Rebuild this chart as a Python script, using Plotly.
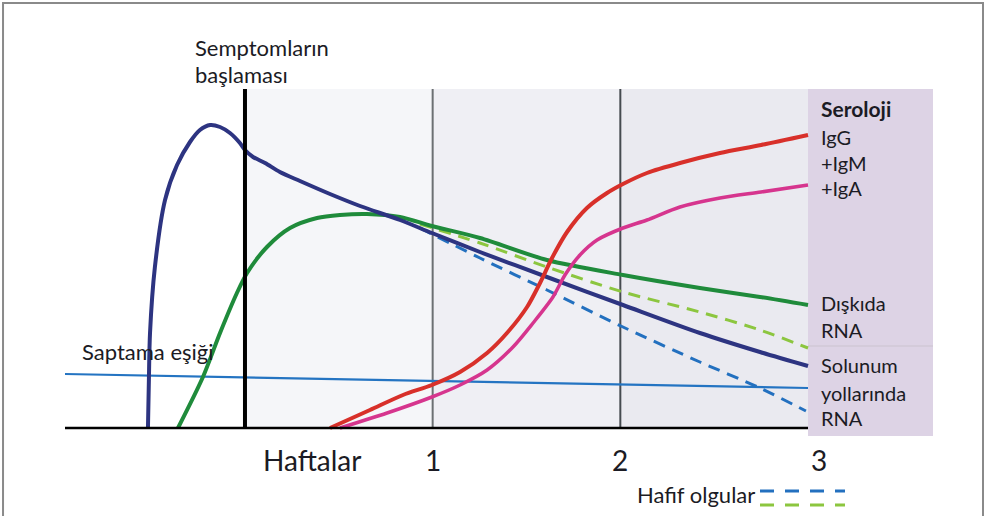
import plotly.graph_objects as go

# ---- data (x in weeks since symptom onset, y in arbitrary level units) ----
resp_x = [-0.517, -0.512, -0.506, -0.480, -0.426, -0.362, -0.293, -0.240, -0.186, -0.133, -0.080, -0.027, 0.0,
          0.043, 0.107, 0.186, 0.293, 0.453, 0.613, 0.826, 0.996, 1.252, 1.609, 2.014, 2.424, 2.744, 3.0]
resp_y = [0, 48, 95, 161, 228, 263, 286, 298, 303, 301, 295, 285, 278,
          271, 265, 256, 247, 234, 222, 208, 195, 176, 151, 123, 95, 76, 62]

resp_mild_x = [0.932, 1.252, 1.609, 2.014, 2.424, 2.744, 2.989]
resp_mild_y = [200, 170, 138, 101, 66, 40, 17]

fecal_x = [-0.357, -0.224, -0.133, -0.043, 0.011, 0.117, 0.240, 0.384, 0.506, 0.650, 0.826,
           0.996, 1.252, 1.609, 2.014, 2.424, 2.744, 3.0]
fecal_y = [0, 51, 95, 135, 155, 181, 200, 210, 213, 214, 211,
           202, 190, 168, 153, 140, 131, 123]

fecal_mild_x = [0.932, 1.252, 1.609, 2.014, 2.424, 2.744, 3.0]
fecal_mild_y = [204, 185, 161, 136, 116, 98, 80]

igg_x = [0.453, 0.666, 0.842, 0.996, 1.146, 1.290, 1.396, 1.503, 1.572, 1.636, 1.716, 1.822, 1.929,
         2.014, 2.142, 2.318, 2.531, 2.750, 3.0]
igg_y = [0, 18, 33, 43, 56, 75, 95, 121, 145, 170, 196, 220, 235,
         244, 255, 265, 275, 283, 293]

igma_x = [0.506, 0.757, 0.996, 1.146, 1.290, 1.428, 1.535, 1.641, 1.705, 1.785, 1.876,
          2.014, 2.142, 2.318, 2.531, 2.750, 3.0]
igma_y = [0, 15, 31, 43, 58, 81, 105, 131, 153, 173, 188,
          200, 208, 221, 230, 236, 243]

threshold_x = [-0.96, 3.0]
threshold_y = [54, 40]

week_ticks = [1, 2, 3]
week_labels = ["1", "2", "3"]

X_MIN, X_MAX = -0.959, 3.666
Y_MIN, Y_MAX = -8, 339
TOP = 339

FONT = "Lato, 'Open Sans', sans-serif"
TXT = "#1b1b24"

fig = go.Figure()

def line(x, y, color, width, dash=None):
    fig.add_trace(go.Scatter(x=x, y=y, mode="lines", hoverinfo="skip", showlegend=False,
                             line=dict(color=color, width=width, dash=dash, shape="spline", smoothing=0.8)))

line(threshold_x, threshold_y, "#2474c2", 2.2)
line(fecal_mild_x, fecal_mild_y, "#8cc63f", 3, "12px,8px")
line(resp_mild_x, resp_mild_y, "#2370bf", 3, "12px,8px")
line(fecal_x, fecal_y, "#1f8b3b", 4)
line(resp_x, resp_y, "#2d3481", 4)
line(igma_x, igma_y, "#d6358e", 3.5)
line(igg_x, igg_y, "#d8302a", 4)

shapes = []
# background panels
panel_colors = ["#f5f6f9", "#efeff4", "#eaeaf0"]
for i, c in enumerate(panel_colors):
    shapes.append(dict(type="rect", xref="x", yref="y", x0=i, x1=i + 1, y0=0, y1=TOP,
                       fillcolor=c, line=dict(width=0), layer="below"))
shapes.append(dict(type="rect", xref="x", yref="y", x0=3, x1=X_MAX, y0=Y_MIN, y1=TOP,
                   fillcolor="#ddd3e5", line=dict(width=0), layer="below"))
shapes.append(dict(type="line", xref="x", yref="y", x0=3, x1=X_MAX, y0=82, y1=82,
                   line=dict(color="#cbc3cf", width=1), layer="below"))
# week separators
shapes.append(dict(type="line", xref="x", yref="y", x0=1, x1=1, y0=0, y1=TOP,
                   line=dict(color="#6c7073", width=2), layer="below"))
shapes.append(dict(type="line", xref="x", yref="y", x0=2, x1=2, y0=0, y1=TOP,
                   line=dict(color="#464b50", width=2), layer="below"))
# symptom onset line
shapes.append(dict(type="line", xref="x", yref="y", x0=0, x1=0, y0=0, y1=TOP,
                   line=dict(color="#000000", width=4), layer="above"))
# baseline
shapes.append(dict(type="line", xref="x", yref="y", x0=X_MIN, x1=3, y0=0, y1=0,
                   line=dict(color="#000000", width=2.5), layer="above"))
# outer frame
shapes.append(dict(type="rect", xref="paper", yref="paper", x0=-0.0714, x1=1.0576, y0=-0.3, y1=1.2478,
                   line=dict(color="#8a8a8a", width=2), fillcolor="rgba(0,0,0,0)"))
# mild-case legend dashes
shapes.append(dict(type="line", xref="paper", yref="paper", x0=0.8007, x1=0.8986, y0=-0.1585, y1=-0.1585,
                   line=dict(color="#2370bf", width=3, dash="14px,11px")))
shapes.append(dict(type="line", xref="paper", yref="paper", x0=0.8007, x1=0.8986, y0=-0.1988, y1=-0.1988,
                   line=dict(color="#8cc63f", width=3, dash="14px,11px")))

ann = []
def text(x, y, s, size=20, xanchor="left", bold=False, yref="y", color=TXT):
    ann.append(dict(x=x, y=y, xref="x", yref=yref, text=("<b>%s</b>" % s) if bold else s,
                    showarrow=False, xanchor=xanchor, yanchor="middle",
                    font=dict(family=FONT, size=size, color=color)))

text(-0.277, 1.121, "Semptomların", size=22, yref="paper")
text(-0.277, 1.043, "başlaması", size=22, yref="paper")
text(-0.879, 77, "Saptama eşiği", size=22)
text(0.357, -0.0692, "Haftalar", size=28, xanchor="center", yref="paper")
for t, lab in zip(week_ticks, week_labels):
    text(t + (0.06 if t == 3 else 0), -0.0692, lab, size=28, xanchor="center", yref="paper")
text(3.06, 320, "Seroloji", size=21, bold=True)
text(3.06, 291, "IgG")
text(3.06, 265, "+IgM")
text(3.06, 240, "+IgA")
text(3.06, 125, "Dışkıda")
text(3.06, 98, "RNA")
text(3.06, 63, "Solunum")
text(3.06, 35, "yollarında")
text(3.06, 10, "RNA")
text(2.728, -0.170, "Hafif olgular", size=22, xanchor="right", yref="paper")

fig.update_layout(
    width=988, height=516,
    margin=dict(l=65, r=55, t=89, b=80),
    paper_bgcolor="white", plot_bgcolor="white",
    xaxis=dict(range=[X_MIN, X_MAX], visible=False, fixedrange=True),
    yaxis=dict(range=[Y_MIN, Y_MAX], visible=False, fixedrange=True),
    shapes=shapes, annotations=ann, showlegend=False,
)

fig.write_html("out.html", config={"displayModeBar": False},
               post_script="document.body.style.margin='0px';")
